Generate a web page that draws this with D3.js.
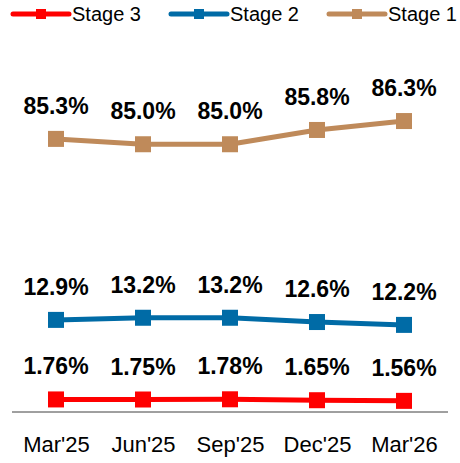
<!DOCTYPE html>
<html>
<head>
<meta charset="utf-8">
<script src="https://cdn.jsdelivr.net/npm/d3@7"></script>
<style>
  body { margin: 0; background: #fff; }
  text { font-family: Arial, "Liberation Sans", sans-serif; }
</style>
</head>
<body>
<svg id="chart" width="460" height="463"></svg>
<script>
// quarters on the x axis
var categories = ["Mar'25", "Jun'25", "Sep'25", "Dec'25", "Mar'26"];

// share of book per stage (%)
var stage1 = [85.3, 85.0, 85.0, 85.8, 86.3];
var stage2 = [12.9, 13.2, 13.2, 12.6, 12.2];
var stage3 = [1.76, 1.75, 1.78, 1.65, 1.56];

var labels1 = ["85.3%", "85.0%", "85.0%", "85.8%", "86.3%"];
var labels2 = ["12.9%", "13.2%", "13.2%", "12.6%", "12.2%"];
var labels3 = ["1.76%", "1.75%", "1.78%", "1.65%", "1.56%"];

var svg = d3.select("#chart");

var x = d3.scalePoint()
  .domain(categories)
  .range([56, 404]);

// stage 2 and 3 on the primary axis, stage 1 on a secondary one
var yLeft = d3.scaleLinear().domain([0, 50]).range([412, 55]);
var yRight = d3.scaleLinear().domain([70, 90]).range([412, 55]);

var series = [
  { name: "Stage 1", values: stage1, labels: labels1, color: "#BF8A5A", y: yRight },
  { name: "Stage 2", values: stage2, labels: labels2, color: "#006BA6", y: yLeft },
  { name: "Stage 3", values: stage3, labels: labels3, color: "#FF0000", y: yLeft }
];

// x axis baseline
svg.append("line")
  .attr("x1", 12).attr("x2", 448)
  .attr("y1", 412).attr("y2", 412)
  .attr("stroke", "#404040")
  .attr("stroke-width", 1);

var xAxis = d3.axisBottom(x).tickSize(0).tickPadding(0);
var gx = svg.append("g")
  .attr("transform", "translate(0,436)")
  .call(xAxis);
gx.select(".domain").remove();
gx.selectAll("text")
  .attr("dy", "0.72em")
  .attr("fill", "#000")
  .style("font-size", "22px")
  .style("font-family", "Arial, 'Liberation Sans', sans-serif");

series.forEach(function(s) {
  var line = d3.line()
    .x(function(d, i) { return x(categories[i]); })
    .y(function(d) { return s.y(d); });

  svg.append("path")
    .datum(s.values)
    .attr("d", line)
    .attr("fill", "none")
    .attr("stroke", s.color)
    .attr("stroke-width", 5)
    .attr("stroke-linejoin", "round");

  svg.selectAll(null)
    .data(s.values)
    .enter()
    .append("rect")
    .attr("x", function(d, i) { return x(categories[i]) - 8; })
    .attr("y", function(d) { return s.y(d) - 8; })
    .attr("width", 16)
    .attr("height", 16)
    .attr("fill", s.color);

  svg.selectAll(null)
    .data(s.values)
    .enter()
    .append("text")
    .attr("x", function(d, i) { return x(categories[i]); })
    .attr("y", function(d) { return s.y(d) - 25; })
    .attr("text-anchor", "middle")
    .attr("font-weight", "bold")
    .attr("font-size", "23px")
    .attr("fill", "#000")
    .text(function(d, i) { return s.labels[i]; });
});

// legend
var legendItems = [
  { name: "Stage 3", color: "#FF0000", x0: 13 },
  { name: "Stage 2", color: "#006BA6", x0: 171 },
  { name: "Stage 1", color: "#BF8A5A", x0: 329 }
];

var lg = svg.selectAll(".legend")
  .data(legendItems)
  .enter()
  .append("g")
  .attr("class", "legend")
  .attr("transform", function(d) { return "translate(" + d.x0 + ",14)"; });

lg.append("line")
  .attr("x1", 0).attr("x2", 56)
  .attr("y1", 0).attr("y2", 0)
  .attr("stroke", function(d) { return d.color; })
  .attr("stroke-width", 5)
  .attr("stroke-linecap", "round");

lg.append("rect")
  .attr("x", 23).attr("y", -5)
  .attr("width", 10).attr("height", 10)
  .attr("fill", function(d) { return d.color; });

lg.append("text")
  .attr("x", 59)
  .attr("y", 7)
  .attr("font-size", "20px")
  .attr("fill", "#000")
  .text(function(d) { return d.name; });
</script>
</body>
</html>
